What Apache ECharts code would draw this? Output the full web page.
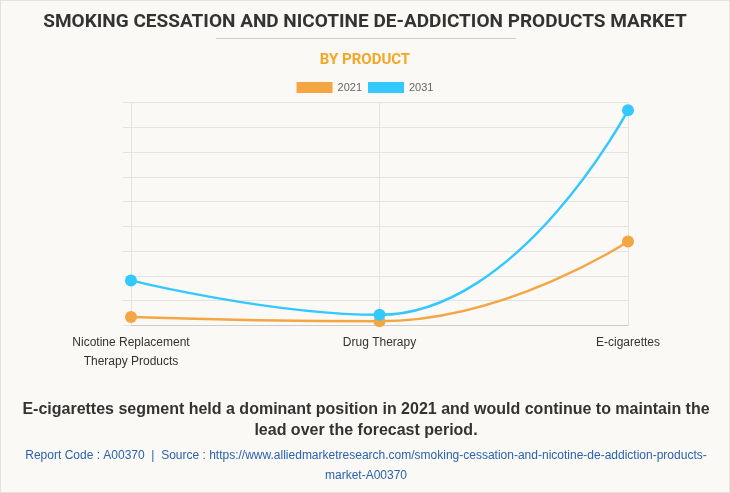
<!DOCTYPE html>
<html>
<head>
<meta charset="utf-8">
<script src="https://cdn.jsdelivr.net/npm/echarts@6/dist/echarts.min.js"></script>
<style>
html,body{margin:0;padding:0;background:#faf9f5;}
#c{width:730px;height:493px;box-sizing:border-box;border:1px solid #e2e2e2;}
</style>
</head>
<body>
<div id="c"></div>
<script>
var categories = ['Nicotine Replacement\nTherapy Products', 'Drug Therapy', 'E-cigarettes'];
var values2021 = [0.34, 0.17, 3.39];
var values2031 = [1.82, 0.43, 8.69];
var seriesNames = ['2021', '2031'];

var chart = echarts.init(document.getElementById('c'), null, {renderer: 'canvas'});
var option = {
  backgroundColor: '#faf9f5',
  animation: false,
  title: [
    {text: 'SMOKING CESSATION AND NICOTINE DE-ADDICTION PRODUCTS MARKET', left: 'center', top: 7,
     textStyle: {fontFamily: 'Roboto', fontWeight: 'bold', fontSize: 19, color: '#333333'}},
    {text: 'BY PRODUCT', left: 'center', top: 47,
     textStyle: {fontFamily: 'Roboto', fontWeight: 'bold', fontSize: 15, color: '#f5a623'}}
  ],
  graphic: [
    {type: 'line', shape: {x1: 215, y1: 37.5, x2: 515, y2: 37.5}, style: {stroke: '#cccccc', lineWidth: 1}},
    {type: 'text', x: 365, y: 398, style: {
      text: 'E-cigarettes segment held a dominant position in 2021 and would continue to maintain the\nlead over the forecast period.',
      textAlign: 'center', textVerticalAlign: 'top', align: 'center', verticalAlign: 'top',
      fontFamily: 'Liberation Sans', fontWeight: 'bold', fontSize: 16, lineHeight: 21, fill: '#333333'}},
    {type: 'text', x: 365, y: 445, style: {
      text: 'Report Code : A00370  |  Source : https://www.alliedmarketresearch.com/smoking-cessation-and-nicotine-de-addiction-products-\nmarket-A00370',
      textAlign: 'center', textVerticalAlign: 'top', align: 'center', verticalAlign: 'top',
      fontFamily: 'Liberation Sans', fontSize: 12, lineHeight: 20, fill: '#2a62b0'}}
  ],
  legend: {
    top: 76, left: 'center', itemWidth: 36, itemHeight: 11, itemGap: 6, icon: 'rect',
    textStyle: {fontFamily: 'Liberation Sans', fontSize: 11, color: '#666666'},
    data: seriesNames
  },
  grid: {left: 130, right: 101, top: 101.5, bottom: 166.5, containLabel: false},
  xAxis: {
    type: 'category', data: categories, boundaryGap: false,
    axisLine: {lineStyle: {color: '#cccccc'}},
    axisTick: {show: false},
    axisLabel: {fontFamily: 'Liberation Sans', fontSize: 12, color: '#333333', lineHeight: 19, margin: 8},
    splitLine: {show: true, lineStyle: {color: '#e3e3e3'}}
  },
  yAxis: {
    type: 'value', min: 0, max: 9, interval: 1,
    axisLine: {show: false},
    axisTick: {show: true, length: 8, lineStyle: {color: '#e3e3e3'}},
    axisLabel: {show: false},
    splitLine: {show: true, lineStyle: {color: '#e3e3e3'}}
  },
  series: [
    {name: seriesNames[0], type: 'line', smooth: true, data: values2021, symbol: 'circle', symbolSize: 12,
     itemStyle: {color: '#f4a544'}, lineStyle: {width: 2.5, color: '#f4a544'}},
    {name: seriesNames[1], type: 'line', smooth: true, data: values2031, symbol: 'circle', symbolSize: 12,
     itemStyle: {color: '#33c8fe'}, lineStyle: {width: 2.5, color: '#33c8fe'}}
  ]
};
chart.setOption(option);
</script>
</body>
</html>
